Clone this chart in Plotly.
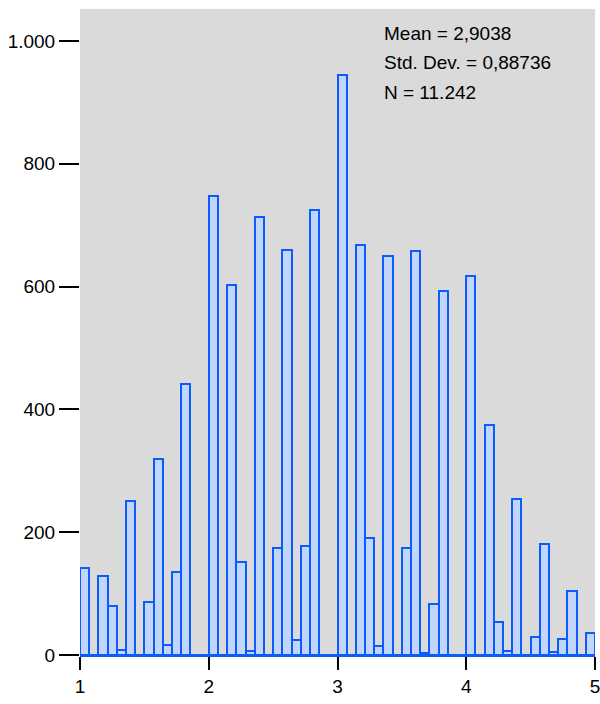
import plotly.graph_objects as go

# histogram: 56 bins of width 1/14 between 1 and 5
bin_start = 1.0
bin_width = 1 / 14
counts = [142, 0, 129, 80, 8, 251, 0, 86, 320, 16, 135, 441, 0, 0,
          747, 0, 602, 152, 7, 713, 0, 174, 659, 24, 178, 725, 0, 0,
          945, 0, 667, 190, 15, 649, 0, 174, 658, 4, 83, 592, 0, 0,
          618, 0, 375, 53, 7, 254, 0, 30, 181, 5, 26, 105, 0, 36]
stats_lines = ["Mean = 2,9038", "Std. Dev. = 0,88736", "N = 11.242"]
x_ticks = [1, 2, 3, 4, 5]
y_ticks = [0, 200, 400, 600, 800, 1000]

centers = [bin_start + (i + 0.5) * bin_width for i in range(len(counts))]

font_fam = "Liberation Sans Narrow, Liberation Sans, Arial, sans-serif"

fig = go.Figure()
fig.add_trace(go.Bar(x=centers, y=counts, width=bin_width,
                     marker=dict(color="#c2d5fb",
                                 line=dict(color="#0a5cff", width=2))))

for i, t in enumerate(stats_lines):
    fig.add_annotation(text=t, xref="paper", yref="paper",
                       x=0.586, y=0.982 - i * 0.046,
                       xanchor="left", yanchor="top", showarrow=False,
                       font=dict(size=19, color="black", family=font_fam))

fig.update_layout(width=600, height=704,
                  margin=dict(l=80, r=5, t=9, b=49),
                  paper_bgcolor="white",
                  plot_bgcolor="#dadada",
                  separators=",.",
                  showlegend=False,
                  bargap=0,
                  font=dict(family=font_fam, size=19, color="black"))
fig.update_xaxes(range=[1, 5], tickvals=x_ticks, showgrid=False,
                 zeroline=False, ticks="outside", ticklen=13, tickwidth=2,
                 tickcolor="black", showline=True, linecolor="#0a5cff",
                 linewidth=2, automargin=False, ticklabeloverflow="allow")
fig.update_yaxes(range=[0, 1052], tickvals=y_ticks, showgrid=False,
                 zeroline=False, ticks="outside", ticklen=20, tickwidth=2,
                 tickcolor="black", separatethousands=True, showline=False,
                 automargin=False, ticklabeloverflow="allow")

# drop the default body margin so the figure fills the window
fig.write_html("out.html",
               config={"displayModeBar": False},
               post_script="document.body.style.margin='0';"
                           "document.body.style.overflow='hidden';")
